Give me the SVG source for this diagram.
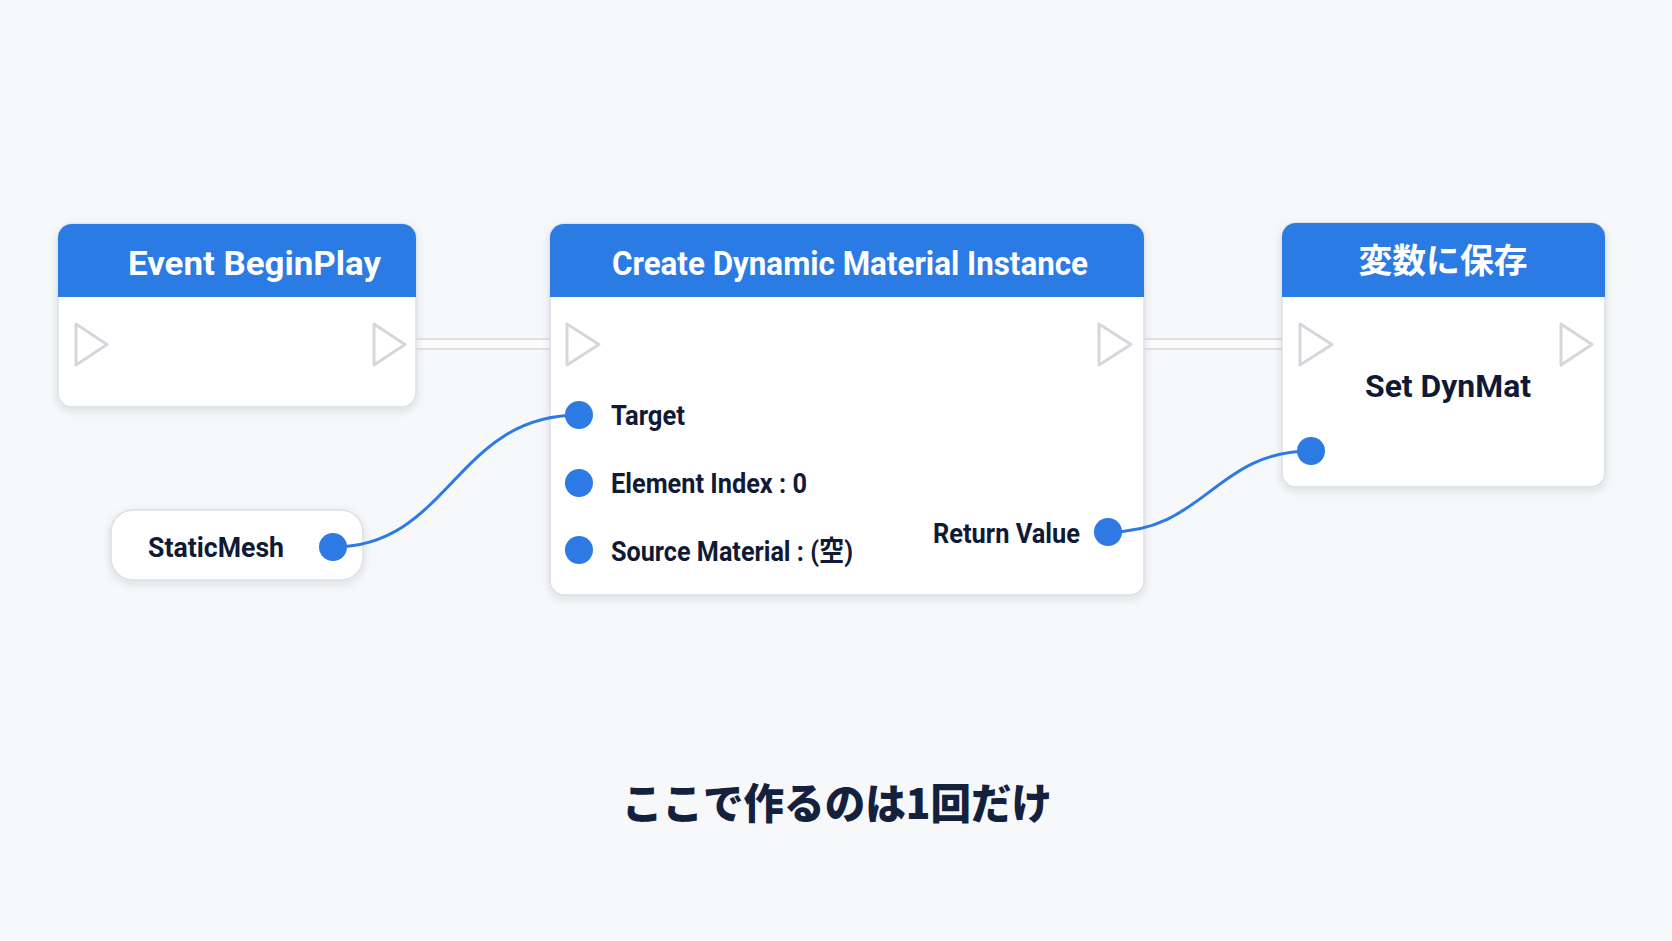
<svg xmlns="http://www.w3.org/2000/svg" width="1672" height="941" viewBox="0 0 1672 941">
<style>
.body{fill:#ffffff;stroke:#dcdfe4;stroke-width:1.5}
.head{fill:#2b7be4}
.title{font-family:Roboto,"Noto Sans","Noto Sans CJK JP",sans-serif;font-weight:700;font-size:34px;fill:#ffffff}
.lbl{font-family:Roboto,"Noto Sans","Noto Sans CJK JP",sans-serif;font-weight:700;font-size:28px;fill:#111a35}
.exec{fill:#ffffff;stroke:#d4d7dc;stroke-width:3;stroke-linejoin:round}
.pin{fill:#2d7ae5}
.wire{fill:none;stroke:#2d7ae5;stroke-width:3}
.ewo{stroke:#dfe1e5;stroke-width:12;fill:none}
.ewi{stroke:#fbfbfc;stroke-width:8;fill:none}
</style>
<defs>
<filter id="sh" x="-10%" y="-10%" width="120%" height="130%">
<feDropShadow dx="0" dy="3" stdDeviation="4" flood-color="#1a2540" flood-opacity="0.12"/>
</filter>
</defs>
<rect width="1672" height="941" fill="#f7f8fa"/>
<g id="connectors">
<line class="ewo" x1="404" y1="344" x2="552" y2="344"/>
<line class="ewi" x1="404" y1="344" x2="552" y2="344"/>
<line class="ewo" x1="1130" y1="344" x2="1300" y2="344"/>
<line class="ewi" x1="1130" y1="344" x2="1300" y2="344"/>
</g>
<g id="node-event">
<rect class="body" x="58" y="224" width="358" height="183" rx="14" filter="url(#sh)"/>
<path class="head" d="M58,297 V238 A14,14 0 0 1 72,224 H402 A14,14 0 0 1 416,238 V297 Z"/>
<text class="title" x="128" y="275" textLength="253" lengthAdjust="spacingAndGlyphs">Event BeginPlay</text>
<path class="exec" d="M76,324 L76,365 L107,344.5 Z"/>
<path class="exec" d="M374,324 L374,365 L405,344.5 Z"/>
</g>
<g id="node-create">
<rect class="body" x="550" y="224" width="594" height="371" rx="14" filter="url(#sh)"/>
<path class="head" d="M550,297 V238 A14,14 0 0 1 564,224 H1130 A14,14 0 0 1 1144,238 V297 Z"/>
<text class="title" x="850" y="275" text-anchor="middle" textLength="476" lengthAdjust="spacingAndGlyphs">Create Dynamic Material Instance</text>
<path class="exec" d="M567,324 L567,365 L599,344.5 Z"/>
<path class="exec" d="M1099,324 L1099,365 L1131,344.5 Z"/>
<circle class="pin" cx="579" cy="415" r="14"/>
<circle class="pin" cx="579" cy="483" r="14"/>
<circle class="pin" cx="579" cy="550" r="14"/>
<circle class="pin" cx="1108" cy="532" r="14"/>
<text class="lbl" x="611" y="425" textLength="74" lengthAdjust="spacingAndGlyphs">Target</text>
<text class="lbl" x="611" y="493" textLength="196" lengthAdjust="spacingAndGlyphs">Element Index : 0</text>
<text class="lbl" x="611" y="561" textLength="242" lengthAdjust="spacingAndGlyphs">Source Material : (空)</text>
<text class="lbl" x="933" y="543" textLength="147" lengthAdjust="spacingAndGlyphs">Return Value</text>
</g>
<g id="node-set">
<rect class="body" x="1282" y="223" width="323" height="264" rx="14" filter="url(#sh)"/>
<path class="head" d="M1282,297 V237 A14,14 0 0 1 1296,223 H1591 A14,14 0 0 1 1605,237 V297 Z"/>
<text class="title" x="1443" y="273" text-anchor="middle" textLength="169" lengthAdjust="spacingAndGlyphs" style="font-family:'Noto Sans CJK JP',sans-serif">変数に保存</text>
<path class="exec" d="M1300,324 L1300,365 L1332,344.5 Z"/>
<path class="exec" d="M1561,324 L1561,365 L1592,344.5 Z"/>
<text class="lbl" x="1365" y="397" textLength="166" lengthAdjust="spacingAndGlyphs" style="font-size:31px">Set DynMat</text>
<circle class="pin" cx="1311" cy="451" r="14"/>
</g>
<g id="node-staticmesh">
<rect class="body" x="111" y="510" width="252" height="70" rx="22" filter="url(#sh)"/>
<text class="lbl" x="148" y="557" textLength="136" lengthAdjust="spacingAndGlyphs">StaticMesh</text>
<circle class="pin" cx="333" cy="547" r="14"/>
</g>
<g id="data-wires">
<path class="wire" d="M333,547 C450,547 455,415 579,415"/>
<path class="wire" d="M1108,532 C1205,532 1215,451 1311,451"/>
</g>
<text x="622" y="819" textLength="430" lengthAdjust="spacingAndGlyphs" style="font-family:'Noto Sans CJK JP',sans-serif;font-weight:900;font-size:42px;fill:#14213d">ここで作るのは1回だけ</text>
</svg>
